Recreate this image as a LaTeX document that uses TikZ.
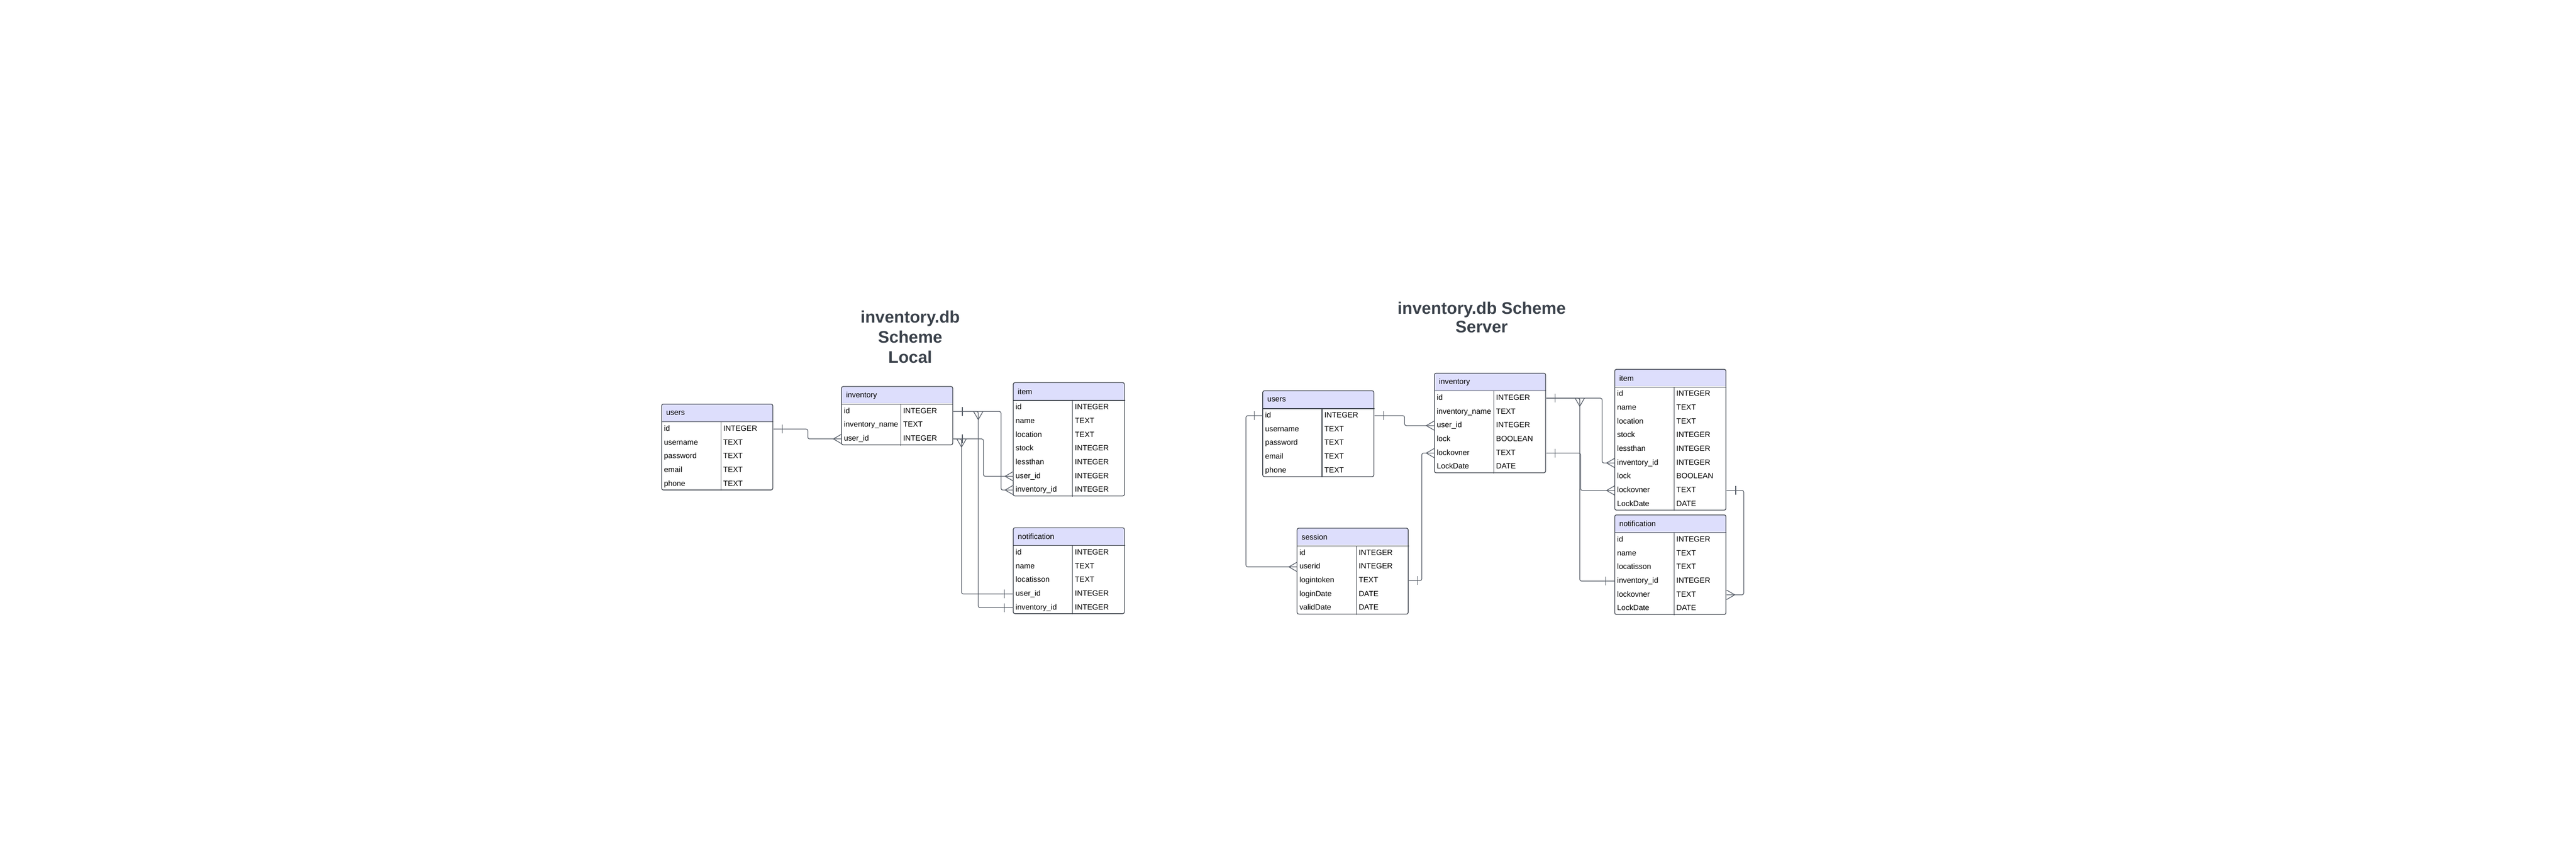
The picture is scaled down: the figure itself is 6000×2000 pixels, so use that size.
\documentclass[tikz,border=0pt]{standalone}
\usepackage{fontspec}
\setmainfont{Liberation Sans}
\usetikzlibrary{calc}

\definecolor{headfill}{RGB}{221,222,252}
\definecolor{tblborder}{RGB}{58,64,73}
\definecolor{connline}{RGB}{88,95,105}
\definecolor{titlegray}{RGB}{58,65,74}

% #1 name, #2 x, #3 y, #4 number of rows, #5 title, #6 field/type list
\newcommand{\dbtable}[6]{%
  \begin{scope}
    \clip[rounded corners=0.04cm] (#2,#3) rectangle ++(259,{40+32*#4});
    \fill[headfill] (#2,#3) rectangle ++(259,40);
  \end{scope}
  \node[tblhead] (#1) at (#2,#3) {#5};
  \foreach \fld/\typ [count=\k] in {#6} {
    \node[tblrow] (#1-\k) at ($(#1.south west)+(0,{32*(\k-1)})$) {};
    \node[fldtxt] at (#1-\k.west) {\fld};
    \node[fldtxt] at ($(#1-\k.west)+(138,0)$) {\typ};
  }
  \draw[tblline,rounded corners=0.04cm] (#2,#3) rectangle ++(259,{40+32*#4});
  \draw[tblline] (#1.south west) -- (#1.south east)
    ($(#1.south west)+(138,0)$) -- ++(0,{32*#4});
}

\begin{document}
\begin{tikzpicture}[
  x=0.01cm, y=-0.01cm,
  every node/.style={font=\fontsize{5.05pt}{6pt}\selectfont},
  title/.style={text=titlegray, align=center, inner sep=0, anchor=north,
                font=\bfseries\fontsize{11.1pt}{13.3pt}\selectfont},
  tblhead/.style={anchor=north west, minimum width=2.59cm, minimum height=0.40cm,
                  text width=2.39cm, inner xsep=0.1cm, inner ysep=0, align=left},
  tblrow/.style={anchor=north west, minimum width=2.59cm, minimum height=0.32cm, inner sep=0},
  fldtxt/.style={anchor=west, inner xsep=0.05cm, inner ysep=0, text height=0.13cm, text depth=0.04cm},
  tblline/.style={draw=tblborder, line width=0.45pt},
  conn/.style={draw=connline, line width=0.45pt, rounded corners=0.04cm},
  mark line/.style={draw=connline, line width=0.45pt, sharp corners},
  onebar/.pic={\draw[mark line] (0,-10) -- (0,10);},
  crowfoot/.pic={\draw[mark line] (0,-11) -- (-19,0) -- (0,11);}]

  \fill[white] (0,0) rectangle (6000,2000);
  \useasboundingbox (0,0) rectangle (6000,2000);

  % Local scheme
  \node[title] (ltitle) at (2120,723) {inventory.db\\Scheme\\Local};

  \dbtable{Lusers}{1541}{941}{5}{users}{id/INTEGER, username/TEXT, password/TEXT, email/TEXT, phone/TEXT}
  \dbtable{Linventory}{1960}{900}{3}{inventory}{id/INTEGER, inventory\_name/TEXT, user\_id/INTEGER}
  \dbtable{Litem}{2360}{891}{7}{item}{id/INTEGER, name/TEXT, location/TEXT, stock/INTEGER,
    lessthan/INTEGER, user\_id/INTEGER, inventory\_id/INTEGER}
  \dbtable{Lnotification}{2360}{1229}{5}{notification}{id/INTEGER, name/TEXT, locatisson/TEXT,
    user\_id/INTEGER, inventory\_id/INTEGER}

  \draw[conn] (Lusers-1.east) -- ++(80,0) |- (Linventory-3.west);
  \draw[conn] (Linventory-1.east) -- ++(111,0) |- (Litem-7.west);
  \draw[conn] (Linventory-1.east) -- ++(58,0) |- (Lnotification-5.west);
  \draw[conn] (Linventory-3.east) -- ++(70,0) |- (Litem-6.west);
  \draw[conn] (Linventory-3.east) -- ++(19,0) |- (Lnotification-4.west);

  \pic at ($(Lusers-1.east)+(21,0)$) {onebar};
  \pic at (Linventory-3.west) {crowfoot};
  \pic at ($(Linventory-1.east)+(21,0)$) {onebar};
  \pic at (Litem-7.west) {crowfoot};
  \pic[rotate=90] at ($(Linventory-1.east)+(58,0)$) {crowfoot};
  \pic at ($(Lnotification-5.west)+(-21,0)$) {onebar};
  \pic at ($(Linventory-3.east)+(21,0)$) {onebar};
  \pic at (Litem-6.west) {crowfoot};
  \pic[rotate=90] at ($(Linventory-3.east)+(19,0)$) {crowfoot};
  \pic at ($(Lnotification-4.west)+(-21,0)$) {onebar};

  % Server scheme
  \node[title, font=\bfseries\fontsize{11.1pt}{12.2pt}\selectfont] (stitle) at (3451,703)
    {inventory.db Scheme\\Server};

  \dbtable{Susers}{2941}{910}{5}{users}{id/INTEGER, username/TEXT, password/TEXT, email/TEXT, phone/TEXT}
  \dbtable{Sinventory}{3341}{869}{6}{inventory}{id/INTEGER, inventory\_name/TEXT, user\_id/INTEGER,
    lock/BOOLEAN, lockovner/TEXT, LockDate/DATE}
  \dbtable{Sitem}{3761}{860}{9}{item}{id/INTEGER, name/TEXT, location/TEXT, stock/INTEGER,
    lessthan/INTEGER, inventory\_id/INTEGER, lock/BOOLEAN, lockovner/TEXT, LockDate/DATE}
  \dbtable{Snotification}{3761}{1199}{6}{notification}{id/INTEGER, name/TEXT, locatisson/TEXT,
    inventory\_id/INTEGER, lockovner/TEXT, LockDate/DATE}
  \dbtable{Ssession}{3021}{1230}{5}{session}{id/INTEGER, userid/INTEGER, logintoken/TEXT,
    loginDate/DATE, validDate/DATE}

  \draw[conn] (Susers-1.east) -- ++(70,0) |- (Sinventory-3.west);
  \draw[conn] (Susers-1.west) -- ++(-39,0) |- (Ssession-2.west);
  \draw[conn] (Ssession-3.east) -- ++(30,0) |- (Sinventory-5.west);
  \draw[conn] (Sinventory-1.east) -- ++(130,0) |- (Sitem-6.west);
  \draw[conn] (Sinventory-1.east) -- ++(78,0) |- (Snotification-4.west);
  \draw[conn] (Sinventory-5.east) -- ++(80,0) |- (Sitem-8.west);
  \draw[conn] (Sitem-8.east) -- ++(40,0) |- (Snotification-5.east);

  \pic at ($(Susers-1.east)+(21,0)$) {onebar};
  \pic at (Sinventory-3.west) {crowfoot};
  \pic at ($(Susers-1.west)+(-20,0)$) {onebar};
  \pic at (Ssession-2.west) {crowfoot};
  \pic at ($(Ssession-3.east)+(20,0)$) {onebar};
  \pic at (Sinventory-5.west) {crowfoot};
  \pic at ($(Sinventory-1.east)+(21,0)$) {onebar};
  \pic at (Sitem-6.west) {crowfoot};
  \pic[rotate=90] at ($(Sinventory-1.east)+(78,0)$) {crowfoot};
  \pic at ($(Snotification-4.west)+(-21,0)$) {onebar};
  \pic at ($(Sinventory-5.east)+(21,0)$) {onebar};
  \pic at (Sitem-8.west) {crowfoot};
  \pic at ($(Sitem-8.east)+(21,0)$) {onebar};
  \pic[rotate=180] at (Snotification-5.east) {crowfoot};
\end{tikzpicture}
\end{document}
